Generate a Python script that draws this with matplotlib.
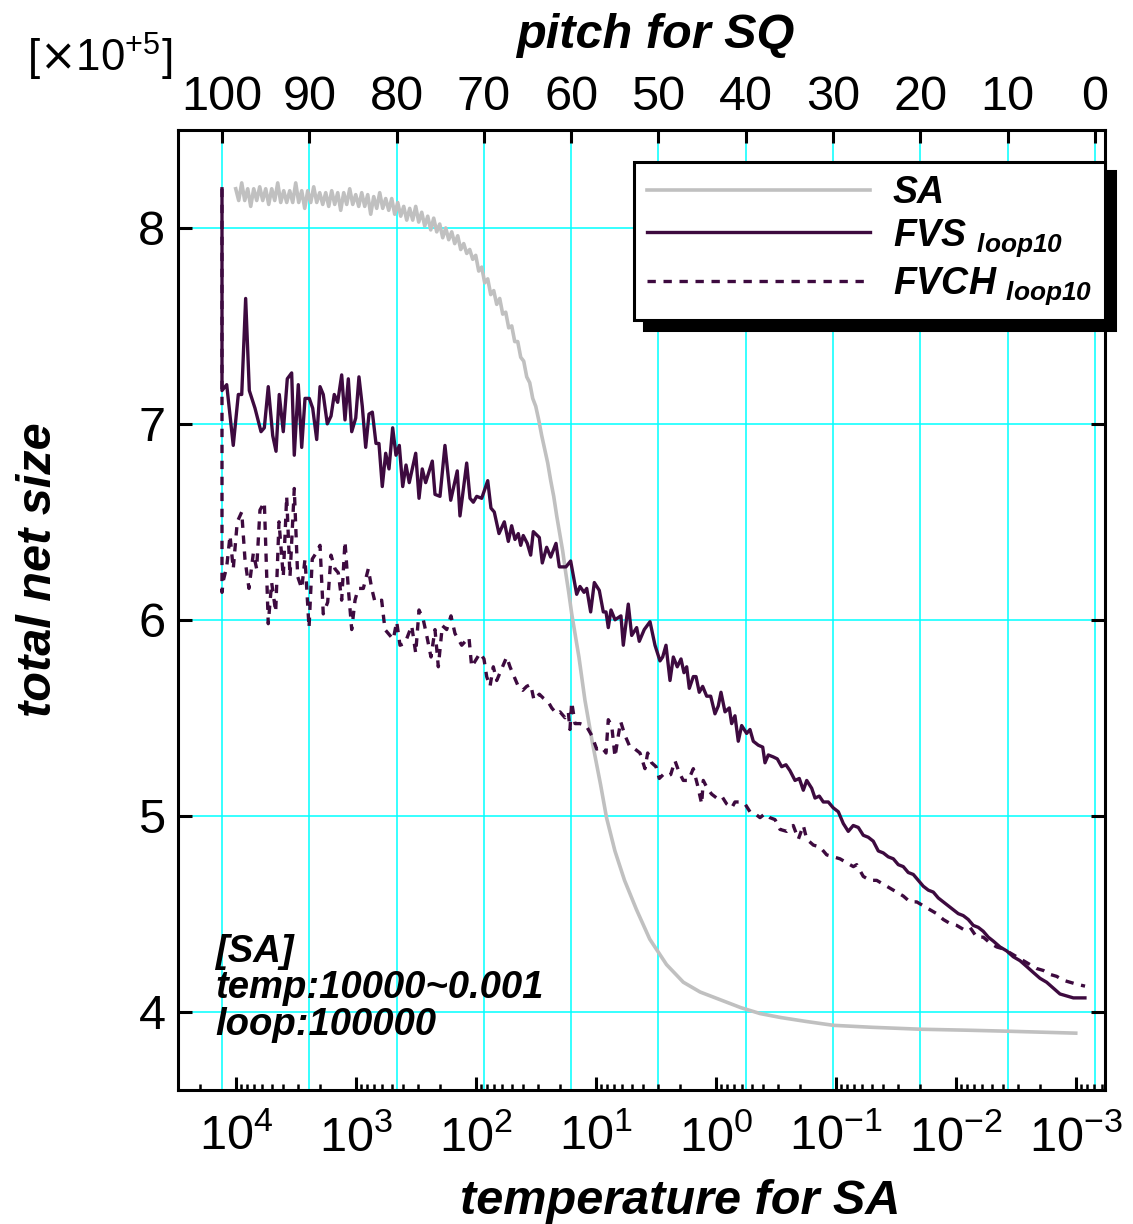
import numpy as np
import matplotlib
matplotlib.use('Agg')
import matplotlib.pyplot as plt
from matplotlib.ticker import FixedLocator, LogLocator, NullFormatter

plt.rcParams['font.family'] = ['Liberation Sans', 'DejaVu Sans']
plt.rcParams['mathtext.fontset'] = 'dejavusans'

# ---- SA : total net size vs temperature (log10 of temperature) ----
sa_log_temp = [
    4.000, 3.975, 3.950, 3.925, 3.900, 3.875, 3.850, 3.825, 3.800, 3.775,
    3.750, 3.725, 3.700, 3.675, 3.650, 3.625, 3.600, 3.575, 3.550, 3.525,
    3.500, 3.475, 3.450, 3.425, 3.400, 3.375, 3.350, 3.325, 3.300, 3.275,
    3.250, 3.225, 3.200, 3.175, 3.150, 3.125, 3.100, 3.075, 3.050, 3.025,
    3.000, 2.975, 2.950, 2.925, 2.900, 2.875, 2.850, 2.825, 2.800, 2.775,
    2.750, 2.725, 2.700, 2.675, 2.650, 2.625, 2.600, 2.575, 2.550, 2.525,
    2.500, 2.475, 2.450, 2.425, 2.400, 2.375, 2.350, 2.325, 2.300, 2.275,
    2.250, 2.225, 2.200, 2.175, 2.150, 2.125, 2.100, 2.075, 2.050, 2.025,
    2.000, 1.975, 1.950, 1.925, 1.900, 1.875, 1.850, 1.825, 1.800, 1.775,
    1.750, 1.725, 1.700, 1.675, 1.650, 1.625, 1.600, 1.575, 1.550, 1.525,
    1.500, 1.475, 1.450, 1.425, 1.400, 1.375, 1.350, 1.325, 1.300, 1.275,
    1.250, 1.225, 1.200,
    1.14, 1.09, 1.03, 0.96, 0.91, 0.84, 0.76, 0.66, 0.55, 0.41,
    0.27, 0.13, -0.04, -0.21, -0.37, -0.54, -0.75, -0.98, -1.30, -1.71,
    -2.10, -2.43, -2.70, -3.00]
sa_value = [
    8.20, 8.14, 8.23, 8.14, 8.20, 8.11, 8.20, 8.14, 8.21, 8.14,
    8.20, 8.12, 8.20, 8.14, 8.23, 8.13, 8.19, 8.13, 8.19, 8.13,
    8.23, 8.13, 8.19, 8.10, 8.19, 8.13, 8.21, 8.13, 8.18, 8.12,
    8.18, 8.11, 8.19, 8.12, 8.18, 8.09, 8.18, 8.12, 8.20, 8.12,
    8.17, 8.11, 8.18, 8.11, 8.17, 8.07, 8.16, 8.10, 8.18, 8.10,
    8.15, 8.09, 8.15, 8.07, 8.13, 8.06, 8.11, 8.04, 8.10, 8.04,
    8.11, 8.03, 8.08, 8.01, 8.06, 7.99, 8.05, 7.98, 8.02, 7.95,
    8.00, 7.94, 7.98, 7.92, 7.96, 7.89, 7.92, 7.87, 7.89, 7.84,
    7.86, 7.78, 7.80, 7.72, 7.74, 7.66, 7.68, 7.61, 7.64, 7.56,
    7.57, 7.49, 7.50, 7.42, 7.42, 7.34, 7.32, 7.24, 7.21, 7.13,
    7.09, 7.02, 6.94, 6.87, 6.80, 6.71, 6.63, 6.53, 6.44, 6.35,
    6.24, 6.14, 6.03,
    5.81, 5.59, 5.38, 5.16, 4.99, 4.82, 4.67, 4.52, 4.37, 4.24,
    4.15, 4.10, 4.06, 4.02, 3.99, 3.97, 3.95, 3.93, 3.92, 3.91,
    3.905, 3.90, 3.895, 3.89]

# ---- FVS loop10 : total net size vs pitch ----
fvs_pitch = [
    100.0, 100.0, 99.46, 98.71, 98.13, 97.74, 97.29, 96.87, 96.22, 95.53,
    95.15, 94.70, 94.19, 93.81, 93.44, 92.98, 92.52, 92.02, 91.72, 91.26,
    90.87, 90.49, 90.00, 89.61, 89.15, 88.77, 88.40, 87.94, 87.51, 87.14,
    86.75, 86.29, 85.91, 85.53, 85.14, 84.68, 84.31, 83.93, 83.54, 83.16,
    82.78, 82.36, 82.02, 81.64, 81.25, 80.87, 80.45, 80.07, 79.69, 79.30,
    78.92, 78.55, 77.81, 77.43, 77.06, 76.67, 75.91, 75.60, 75.03, 74.46,
    73.80, 73.05, 72.74, 71.97, 71.59, 71.21, 70.82, 70.25, 69.56, 69.19,
    68.81, 68.27, 67.66,
    67.20, 66.82, 66.44, 66.06, 65.78, 65.49, 65.03, 64.64, 64.34, 63.65,
    63.31, 62.81, 62.35, 61.74, 61.36, 60.60, 60.06, 59.37, 58.99, 58.53,
    58.22, 57.77, 57.35, 56.78, 56.32, 56.01, 55.75, 55.44, 54.98, 54.30,
    54.03, 53.46, 53.07, 52.50, 52.20, 51.63, 50.97, 50.40, 49.83, 49.52,
    49.14, 48.68, 48.30, 47.85, 47.42, 47.08, 46.77, 46.47, 46.01, 45.70,
    45.33, 44.94, 44.48, 44.02, 43.53, 43.15, 42.84, 42.38, 41.89, 41.62,
    41.24, 40.86, 40.47, 39.90, 39.52, 39.14, 38.57, 38.06, 37.80, 37.42,
    36.85, 36.39, 35.89, 35.40, 34.94, 34.36, 33.87,
    33.41, 33.02, 32.45, 32.07, 31.58, 31.12, 30.55, 29.98, 29.40, 28.83,
    28.26, 27.69, 27.11, 26.54, 25.97, 25.40, 24.82, 24.25, 23.68, 23.10,
    22.53, 21.96, 21.39, 20.81, 20.24, 19.67, 19.09, 18.52, 17.95, 17.38,
    16.80, 16.23, 15.66, 15.09, 14.51, 13.94, 13.37, 12.80, 12.22, 11.65,
    10.88, 10.12, 9.36, 8.59, 7.82, 7.07, 6.30, 5.54, 4.78, 4.01,
    3.24, 2.48, 1.15]
fvs_value = [
    8.20, 7.17, 7.20, 6.89, 7.15, 7.15, 7.64, 7.17, 7.08, 6.96,
    6.98, 7.19, 6.94, 6.86, 7.15, 6.96, 7.23, 7.26, 6.84, 7.20,
    6.88, 7.13, 7.13, 7.08, 6.92, 7.19, 7.15, 7.00, 7.04, 7.15,
    7.11, 7.25, 7.02, 7.23, 6.96, 7.03, 7.24, 7.09, 6.88, 7.05,
    7.06, 6.90, 6.90, 6.68, 6.85, 6.77, 6.98, 6.84, 6.89, 6.68,
    6.79, 6.70, 6.85, 6.62, 6.77, 6.70, 6.81, 6.64, 6.63, 6.89,
    6.61, 6.76, 6.53, 6.80, 6.62, 6.60, 6.63, 6.62, 6.71, 6.57,
    6.55, 6.44, 6.50,
    6.40, 6.48, 6.41, 6.44, 6.38, 6.43, 6.39, 6.33, 6.45, 6.42,
    6.29, 6.37, 6.32, 6.39, 6.27, 6.27, 6.30, 6.13, 6.17, 6.14,
    6.16, 6.04, 6.19, 6.15, 6.04, 6.04, 5.96, 6.05, 6.00, 6.02,
    5.87, 6.08, 5.92, 5.96, 5.89, 5.95, 5.99, 5.87, 5.79, 5.81,
    5.87, 5.69, 5.81, 5.76, 5.80, 5.73, 5.76, 5.65, 5.71, 5.71,
    5.63, 5.66, 5.61, 5.61, 5.52, 5.56, 5.63, 5.53, 5.55, 5.47,
    5.51, 5.38, 5.46, 5.42, 5.44, 5.38, 5.36, 5.35, 5.27, 5.31,
    5.30, 5.29, 5.25, 5.26, 5.23, 5.18, 5.19,
    5.13, 5.18, 5.14, 5.09, 5.10, 5.07, 5.07, 5.04, 5.02, 4.96,
    4.92, 4.95, 4.94, 4.90, 4.89, 4.87, 4.82, 4.81, 4.79, 4.78,
    4.75, 4.74, 4.71, 4.70, 4.67, 4.64, 4.62, 4.61, 4.58, 4.56,
    4.54, 4.52, 4.50, 4.49, 4.47, 4.44, 4.43, 4.41, 4.38, 4.36,
    4.33, 4.31, 4.28, 4.26, 4.23, 4.20, 4.17, 4.15, 4.12, 4.09,
    4.08, 4.07, 4.07]

# ---- FVCH loop10 : total net size vs pitch ----
fvch_pitch = [
    100.0, 100.0, 99.85, 99.46, 99.08, 98.71, 98.25, 97.74, 97.37, 96.91,
    96.41, 96.03, 95.65, 95.15, 94.70, 94.31, 93.85, 93.47, 92.98, 92.59,
    92.21, 91.72, 91.33, 90.87, 90.49, 90.03, 89.66, 89.23, 88.77, 88.40,
    87.89, 87.51, 87.06, 86.68, 86.29, 85.91, 85.53, 85.14, 84.76, 84.39,
    83.81, 83.24, 82.85, 82.47, 81.71, 81.33, 80.76, 80.38, 79.99, 79.61,
    79.04, 78.27, 77.81, 77.43, 76.94, 76.55, 76.06, 75.60, 75.22, 74.76,
    74.26, 73.77, 73.31, 72.54, 71.71, 71.40,
    70.44, 69.99, 69.68, 69.30, 68.92, 68.53, 67.96, 67.39, 67.01, 66.63,
    66.06, 65.55, 65.10, 64.64, 64.26, 63.65, 63.19, 62.62, 62.23, 61.66,
    61.28, 60.71, 60.33, 60.14, 59.94, 59.56, 58.99, 58.30, 57.65, 57.08,
    56.51, 56.01, 55.75, 55.36, 54.98, 54.60, 54.33, 53.84, 53.26, 52.69,
    52.12, 51.55, 51.24, 50.78, 50.28, 49.91, 49.45, 49.06, 48.60, 48.11,
    47.62, 47.16, 46.58, 46.01, 45.55, 45.05, 44.87, 44.41, 43.91, 43.33,
    42.76, 42.19, 41.61, 41.24, 40.66, 40.09, 39.52, 38.94, 38.37, 37.80,
    37.23, 36.65,
    36.08, 35.31, 34.56, 33.98, 33.41, 33.02, 32.26, 31.50, 30.73, 29.97,
    29.21, 28.44, 27.68, 27.29, 26.54, 25.77, 25.00, 24.25, 23.48, 22.71,
    21.96, 21.19, 20.42, 19.67, 18.90, 18.13, 17.37, 16.61, 15.84, 15.08,
    14.31, 13.55, 12.79, 12.02, 11.26, 10.50, 9.73, 8.97, 8.21, 7.44,
    6.68, 5.92, 5.15, 4.39, 3.63, 2.86, 2.10, 1.14]
fvch_value = [
    8.20, 6.14, 6.20, 6.27, 6.43, 6.26, 6.50, 6.55, 6.31, 6.16,
    6.34, 6.26, 6.56, 6.60, 5.98, 6.19, 6.04, 6.50, 6.22, 6.63,
    6.22, 6.67, 6.22, 6.16, 6.31, 5.96, 6.31, 6.34, 6.38, 6.03,
    6.09, 6.33, 6.26, 6.24, 6.10, 6.40, 6.16, 5.95, 6.10, 6.16,
    6.16, 6.26, 6.16, 6.09, 6.10, 5.95, 5.92, 5.90, 5.99, 5.87,
    5.88, 5.97, 5.83, 6.05, 6.00, 5.92, 5.81, 5.95, 5.76, 5.97,
    5.95, 6.02, 5.93, 5.87, 5.91, 5.76,
    5.83, 5.80, 5.71, 5.66, 5.76, 5.69, 5.75, 5.81, 5.76, 5.72,
    5.66, 5.64, 5.66, 5.67, 5.59, 5.62, 5.60, 5.58, 5.55, 5.52,
    5.53, 5.50, 5.53, 5.44, 5.58, 5.47, 5.47, 5.46, 5.41, 5.34,
    5.35, 5.32, 5.49, 5.46, 5.30, 5.41, 5.48, 5.41, 5.35, 5.34,
    5.32, 5.24, 5.32, 5.27, 5.25, 5.19, 5.21, 5.20, 5.21, 5.28,
    5.22, 5.18, 5.18, 5.24, 5.16, 5.06, 5.18, 5.14, 5.11, 5.09,
    5.10, 5.06, 5.04, 5.07, 5.07, 5.06, 5.02, 5.01, 4.99, 5.01,
    4.99, 4.98,
    4.93, 4.92, 4.95, 4.88, 4.95, 4.88, 4.85, 4.84, 4.80, 4.79,
    4.78, 4.76, 4.74, 4.75, 4.69, 4.67, 4.67, 4.65, 4.63, 4.61,
    4.59, 4.56, 4.56, 4.54, 4.52, 4.50, 4.47, 4.45, 4.44, 4.42,
    4.43, 4.38, 4.38, 4.35, 4.33, 4.32, 4.30, 4.28, 4.26, 4.24,
    4.22, 4.21, 4.19, 4.18, 4.16, 4.15, 4.14, 4.13]

temp_ticks = [1e4, 1e3, 1e2, 1e1, 1e0, 1e-1, 1e-2, 1e-3]
pitch_ticks = [0, 10, 20, 30, 40, 50, 60, 70, 80, 90, 100]
y_ticks = [4, 5, 6, 7, 8]
labels = ['SA', r'FVS $_{\mathdefault{loop10}}$', r'FVCH $_{\mathdefault{loop10}}$']

purple = '#3d0a3f'
grid_c = '#00ffff'
bi = dict(weight='bold', style='italic')

fig = plt.figure(figsize=(11.33, 12.24), dpi=100)
ax = fig.add_axes([0.1571, 0.1095, 0.8182, 0.7843])   # temperature axis (SA)
axg = ax.twiny()   # pitch axis, carries top ticks and grid
axf = ax.twiny()   # pitch axis for FVS / FVCH, drawn above SA
axg.set_zorder(0)
ax.set_zorder(1)
axf.set_zorder(2)
ax.patch.set_visible(False)

# SA
ax.set_xscale('log')
h_sa, = ax.plot(10.0 ** np.array(sa_log_temp), sa_value, color='#c0c0c0', lw=2.6)
ax.set_xlim(10 ** 4.481, 10 ** -3.244)
ax.set_ylim(3.6, 8.5)
ax.xaxis.set_major_locator(FixedLocator(temp_ticks))
ax.xaxis.set_minor_locator(LogLocator(base=10, subs=np.arange(2, 10), numticks=40))
ax.xaxis.set_minor_formatter(NullFormatter())
ax.set_yticks(y_ticks)
ax.tick_params(axis='x', which='both', direction='in', top=False, labelsize=35,
               pad=18, width=2.2)
ax.tick_params(axis='x', which='major', length=9.5)
ax.tick_params(axis='x', which='minor', length=4.5, width=1.8)
ax.tick_params(axis='y', which='both', direction='in', left=True, right=True,
               labelsize=35, length=10, width=2.2, pad=9)
for s in ax.spines.values():
    s.set_linewidth(2.2)

# grid + top pitch axis
axg.set_xlim(105.04, -1.15)
axg.set_xticks(pitch_ticks)
axg.tick_params(axis='x', direction='in', length=9, width=2.2, labelsize=35, pad=7)
axg.xaxis.grid(True, color=grid_c, lw=1.1)
axg.yaxis.set_visible(True)
axg.yaxis.grid(True, color=grid_c, lw=1.1)
axg.tick_params(axis='y', which='both', left=False, right=False,
                labelleft=False, labelright=False)
for s in axg.spines.values():
    s.set_visible(False)

# FVS / FVCH
axf.set_xlim(105.04, -1.15)
h_fvs, = axf.plot(fvs_pitch, fvs_value, color=purple, lw=2.4)
h_fvch, = axf.plot(fvch_pitch, fvch_value, color=purple, lw=2.4,
                   linestyle=(0, (2.5, 2.3)))
axf.set_axis_off()

leg = axf.legend([h_sa, h_fvs, h_fvch], labels, loc='upper right',
                 bbox_to_anchor=(1.0, 0.967), borderaxespad=0,
                 prop=dict(size=27, **bi), handlelength=5.95, handletextpad=0.6,
                 borderpad=0.35, labelspacing=0.17, fancybox=False, framealpha=1,
                 edgecolor='black',
                 shadow={'ox': 7, 'oy': -7, 'facecolor': 'black',
                         'edgecolor': 'black', 'alpha': 1})
leg.get_frame().set_linewidth(2.2)

# labels
ax.set_xlabel('temperature for SA', fontsize=35, **bi)
ax.xaxis.set_label_coords(0.5415, -0.0925)
axg.set_xlabel('pitch for SQ', fontsize=35, **bi)
axg.xaxis.set_label_coords(0.5146, 1.085)
ax.set_ylabel('total net size', fontsize=35, **bi)
ax.yaxis.set_label_coords(-0.126, 0.542)

ax.text(0.040, 0.049, '[SA]\ntemp:10000~0.001\nloop:100000', transform=ax.transAxes,
        fontsize=27.5, va='bottom', ha='left', linespacing=1.02, **bi)
fig.text(0.024, 1 - 72 / 1224, r'[$\times$10$^{\mathdefault{+5}}$]', fontsize=31.5,
         va='baseline', ha='left')

fig.savefig('out.png', dpi=100, facecolor='white')
